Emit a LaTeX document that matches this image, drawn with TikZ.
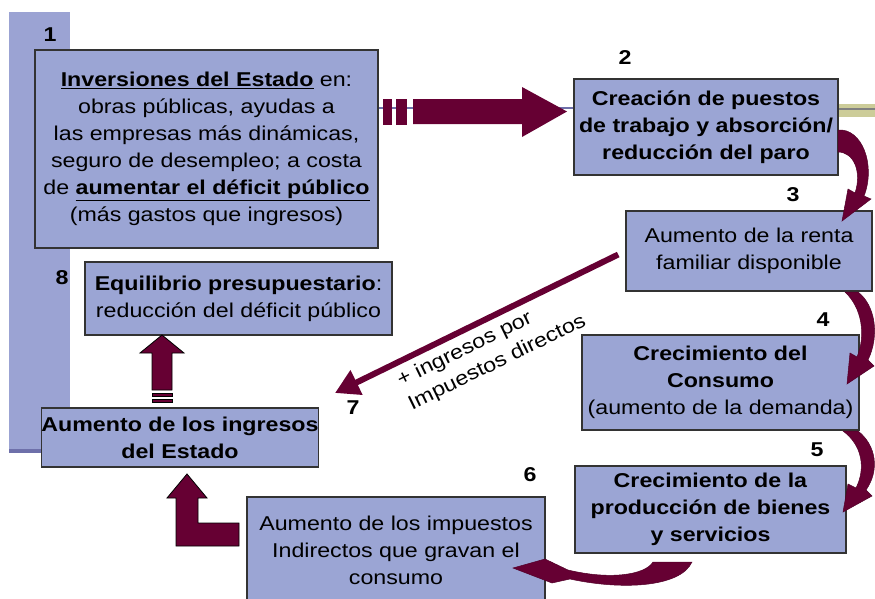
\documentclass[tikz,border=0pt]{standalone}
\usepackage{fontspec}
\setmainfont{Liberation Sans}[FakeStretch=1.16]
\usetikzlibrary{arrows.meta,calc}
\definecolor{boxfill}{RGB}{155,165,212}
\definecolor{bandfill}{RGB}{155,163,211}
\definecolor{bandline}{RGB}{110,112,170}
\definecolor{maroon}{RGB}{102,0,51}
\definecolor{khaki}{RGB}{204,204,153}
\begin{document}
\begin{tikzpicture}[x=1pt,y=-1pt,
  box/.style={draw=black!80, line width=1.2pt, fill=boxfill, inner sep=0pt, align=center, font=\fontsize{20}{27}\selectfont},
  num/.style={font=\fontsize{20}{24}\selectfont\bfseries, inner sep=0pt},
  blockarrow/.style={fill=maroon, draw=black, line width=0.8pt, line join=miter},
  curvearrow/.style={fill=maroon, draw=maroon!80!black, line width=0.5pt},
  lbl/.style={font=\fontsize{20}{26}\selectfont, inner sep=0pt, align=left},
]
\useasboundingbox (0,0) rectangle (875,598);
% slide template
\fill[bandfill] (9,12) rectangle (70,452);
\fill[bandline] (9,449) rectangle (60,453);
\draw[bandline, line width=1.5pt] (378,108) -- (574,108);
\fill[khaki] (838,104) rectangle (875,117);
\draw[gray, line width=1.5pt] (838,109) -- (875,109);

% boxes
\node[box, minimum width=343pt, minimum height=198pt] (b1) at (206.5,149)
  {\underline{\textbf{Inversiones del Estado}} en:\\
   obras públicas, ayudas a\\
   las empresas más dinámicas,\\
   seguro de desempleo; a costa\\
   de \underline{\textbf{aumentar el déficit público}}\\
   (más gastos que ingresos)};
\node[box, minimum width=264pt, minimum height=96pt] (b2) at (706,127)
  {\textbf{Creación de puestos}\\ \textbf{de trabajo y absorción/}\\ \textbf{reducción del paro}};
\node[box, minimum width=246pt, minimum height=80pt] (b3) at (749,251)
  {Aumento de la renta\\ familiar disponible};
\node[box, minimum width=277pt, minimum height=95pt] (b4) at (720.5,382.5)
  {\textbf{Crecimiento del}\\ \textbf{Consumo}\\ (aumento de la demanda)};
\node[box, minimum width=271pt, minimum height=87pt] (b5) at (710.5,509.5)
  {\textbf{Crecimiento de la}\\ \textbf{producción de bienes}\\ \textbf{y servicios}};
\node[box, minimum width=298pt, minimum height=106pt] (b6) at (396,550)
  {Aumento de los impuestos\\ Indirectos que gravan el\\ consumo};
\node[box, minimum width=276pt, minimum height=59pt] (b7) at (180,437.5)
  {\textbf{Aumento de los ingresos}\\ \textbf{del Estado}};
\node[box, minimum width=307pt, minimum height=73pt] (b8) at (238.5,298.5)
  {\textbf{Equilibrio presupuestario}:\\ reducción del déficit público};

% numbers
\node[num] (n1) at (50,35) {1};
\node[num] (n2) at (625,58) {2};
\node[num] (n3) at (793,195) {3};
\node[num] (n4) at (823,320) {4};
\node[num] (n5) at (817,450) {5};
\node[num] (n6) at (530,475) {6};
\node[num] (n7) at (353,408) {7};
\node[num] (n8) at (62,278) {8};

% block arrow 1 -> 2
\fill[maroon] (383,99) rectangle (392,125);
\fill[maroon] (396,99) rectangle (407,125);
\fill[maroon] (413,99) -- (522,99) -- (522,87) -- (567,111.5) -- (522,137) -- (522,124) -- (413,124) -- cycle;

% curved arrow 2 -> 3
\path[curvearrow] (838,130) .. controls (862,128) and (876,165) .. (864,196)
  -- (871,199) -- (842,221) -- (848,189) -- (855,193)
  .. controls (862,172) and (854,152) .. (838,152) -- cycle;
% curved arrow 3 -> 4
\path[curvearrow] (858,292) .. controls (875,305) and (880,335) .. (868,360)
  -- (874,366) -- (847,384) -- (850,353) -- (857,357)
  .. controls (866,335) and (862,308) .. (845,292) -- cycle;
% curved arrow 4 -> 5
\path[curvearrow] (858,431) .. controls (876,445) and (880,470) .. (866,490)
  -- (872,496) -- (843,512) -- (848,484) -- (856,488)
  .. controls (866,468) and (862,445) .. (843,431) -- cycle;
% curved arrow 5 -> 6
\path[curvearrow] (692,562) .. controls (680,588) and (620,590) .. (570,579)
  -- (552,583) -- (513,568) -- (545,559) -- (568,570)
  .. controls (610,580) and (645,575) .. (653,562) -- cycle;

% diagonal arrow 3 -> 7
\coordinate (p7) at (335,393);
\draw[maroon, line width=6pt, shorten <=8pt, -{Triangle[length=24pt,width=26pt]}] (b3.west) -- (p7);
\node[lbl, rotate=26, anchor=west] (l37) at (404,394) {+ ingresos por\\ Impuestos directos};

% up arrow 7 -> 8
\path[blockarrow] (162,335) -- (184,353) -- (172,353) -- (172,390) -- (152,390) -- (152,353) -- (140,353) -- cycle;
\path[blockarrow] (152,393) rectangle (172,396);
\path[blockarrow] (152,399) rectangle (172,402);

% bent arrow 6 -> 7
\path[blockarrow] (187,474) -- (207,498) -- (198,498) -- (198,523) -- (239,523) -- (239,546) -- (176,546) -- (176,498) -- (167,498) -- cycle;
\end{tikzpicture}
\end{document}
